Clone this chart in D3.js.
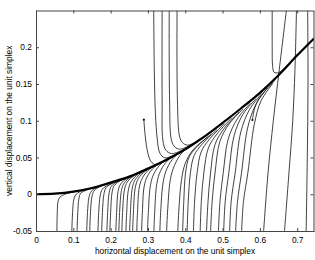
<!DOCTYPE html>
<html>
<head>
<meta charset="utf-8">
<script src="https://cdn.jsdelivr.net/npm/d3@7"></script>
<style>
  body { margin: 0; background: #fff; }
  text { font-family: "Liberation Sans", Arial, sans-serif; font-size: 8.4px; fill: #000; }
</style>
</head>
<body>
<div id="chart"></div>
<script>
// tick values and labels
const xTickVals = [0, 0.1, 0.2, 0.3, 0.4, 0.5, 0.6, 0.7];
const xTickText = ["0", "0.1", "0.2", "0.3", "0.4", "0.5", "0.6", "0.7"];
const yTickVals = [-0.05, 0, 0.05, 0.1, 0.15, 0.2];
const yTickText = ["-0.05", "0", "0.05", "0.1", "0.15", "0.2"];

// the thick curve (slow manifold)
const curveX = [0, 0.05, 0.1, 0.15, 0.2, 0.25, 0.3, 0.35, 0.4, 0.45, 0.5, 0.55, 0.6, 0.65, 0.7, 0.745];
const curveY = [0, 0.0008, 0.0035, 0.0085, 0.016, 0.024, 0.035, 0.047, 0.061, 0.078, 0.097, 0.117, 0.138, 0.162, 0.189, 0.212];

// trajectories coming up from the bottom edge
const bottomRuns = [
  [[0.056,-0.05],[0.057,-0.025],[0.059,-0.01],[0.064,-0.004],[0.08,0.0005],[0.11,0.004],[0.15,0.0085]],
  [[0.096,-0.05],[0.098,-0.025],[0.101,-0.008],[0.106,-0.001],[0.12,0.004],[0.15,0.008]],
  [[0.11,-0.05],[0.112,-0.025],[0.115,-0.006],[0.12,0.0015],[0.135,0.0055],[0.165,0.0102]],
  [[0.136,-0.05],[0.138,-0.025],[0.142,-0.004],[0.148,0.004],[0.165,0.0095],[0.2,0.0155]],
  [[0.144,-0.05],[0.146,-0.025],[0.15,-0.003],[0.156,0.005],[0.175,0.011],[0.21,0.0165]],
  [[0.166,-0.05],[0.168,-0.025],[0.172,-0.002],[0.178,0.007],[0.195,0.013],[0.23,0.02]],
  [[0.176,-0.05],[0.178,-0.025],[0.182,0],[0.188,0.009],[0.205,0.0148],[0.24,0.0215]],
  [[0.19,-0.05],[0.192,-0.025],[0.196,0.002],[0.202,0.011],[0.22,0.0175],[0.255,0.0245]],
  [[0.198,-0.05],[0.2,-0.025],[0.204,0.003],[0.21,0.012],[0.228,0.019],[0.26,0.0255]],
  [[0.214,-0.05],[0.216,-0.025],[0.22,0.004],[0.227,0.014],[0.245,0.022],[0.28,0.0298]],
  [[0.222,-0.05],[0.224,-0.025],[0.229,0.005],[0.236,0.015],[0.255,0.0238],[0.29,0.032]],
  [[0.23,-0.05],[0.232,-0.025],[0.237,0.006],[0.245,0.017],[0.265,0.0258],[0.3,0.0342]],
  [[0.241,-0.05],[0.243,-0.025],[0.248,0.007],[0.256,0.018],[0.275,0.0278],[0.31,0.0365]],
  [[0.251,-0.05],[0.253,-0.025],[0.258,0.008],[0.266,0.02],[0.285,0.0298],[0.32,0.039]],
  [[0.259,-0.05],[0.261,-0.025],[0.266,0.009],[0.274,0.021],[0.294,0.0318],[0.33,0.0413]],
  [[0.27,-0.05],[0.272,-0.025],[0.277,0.01],[0.286,0.023],[0.305,0.0343],[0.34,0.0439]],
  [[0.283,-0.05],[0.285,-0.025],[0.29,0.011],[0.299,0.025],[0.318,0.0373],[0.355,0.0478]],
  [[0.299,-0.05],[0.301,-0.025],[0.307,0.013],[0.316,0.028],[0.336,0.0418],[0.375,0.0534]],
  [[0.316,-0.05],[0.318,-0.025],[0.324,0.015],[0.334,0.032],[0.354,0.0465],[0.39,0.0578]],
  [[0.332,-0.05],[0.334,-0.025],[0.341,0.017],[0.351,0.035],[0.372,0.0514],[0.41,0.0639]],
  [[0.35,-0.05],[0.353,-0.02],[0.36,0.02],[0.371,0.039],[0.392,0.057],[0.43,0.0703]],
  [[0.38,-0.05],[0.383,-0.02],[0.39,0.02],[0.4,0.042],[0.42,0.06],[0.46,0.078]],
  [[0.393,-0.05],[0.396,-0.01],[0.401,0.03],[0.41,0.05],[0.43,0.064],[0.47,0.082]],
  [[0.405,-0.05],[0.408,-0.01],[0.414,0.03],[0.424,0.053],[0.445,0.068],[0.485,0.088]],
  [[0.422,-0.05],[0.425,-0.01],[0.432,0.03],[0.443,0.058],[0.465,0.075],[0.505,0.096]],
  [[0.44,-0.05],[0.443,-0.01],[0.45,0.03],[0.462,0.063],[0.485,0.082],[0.525,0.104]],
  [[0.457,-0.05],[0.461,-0.01],[0.468,0.03],[0.48,0.068],[0.505,0.09],[0.545,0.112]],
  [[0.468,-0.05],[0.472,-0.01],[0.48,0.03],[0.493,0.072],[0.518,0.096],[0.555,0.116]],
  [[0.489,-0.05],[0.493,-0.01],[0.502,0.03],[0.515,0.075],[0.54,0.103],[0.575,0.124]],
  [[0.503,-0.05],[0.507,-0.01],[0.517,0.03],[0.531,0.08],[0.555,0.109],[0.59,0.13]],
  [[0.519,-0.05],[0.523,-0.01],[0.534,0.03],[0.549,0.085],[0.572,0.115],[0.605,0.137]],
  [[0.535,-0.05],[0.54,-0.01],[0.551,0.03],[0.567,0.09],[0.588,0.121],[0.62,0.145]],
  [[0.551,-0.05],[0.556,-0.01],[0.568,0.03],[0.585,0.095],[0.603,0.127],[0.635,0.151]]
];

// trajectories coming down from the top edge
const topRuns = [
  [[0.3155,0.25],[0.317,0.17],[0.32,0.11],[0.325,0.075],[0.332,0.056],[0.345,0.0495],[0.37,0.0535],[0.4,0.0615]],
  [[0.338,0.25],[0.338,0.128],[0.34,0.0736],[0.348,0.06],[0.363,0.0554],[0.39,0.0595],[0.42,0.069]],
  [[0.357,0.25],[0.358,0.128],[0.363,0.0736],[0.372,0.0644],[0.385,0.0613],[0.41,0.066],[0.44,0.0755]],
  [[0.378,0.25],[0.379,0.128],[0.385,0.078],[0.393,0.07],[0.406,0.0668],[0.43,0.0715],[0.46,0.0815]],
  [[0.633,0.25],[0.633,0.2],[0.634,0.175],[0.638,0.166],[0.65,0.1655],[0.675,0.176],[0.71,0.193]]
];

// trajectories crossing the whole window on the right
const crossRuns = [
  [[0.61,-0.05],[0.622,0.03],[0.636,0.1],[0.652,0.17],[0.671,0.25]],
  [[0.666,-0.05],[0.678,0.03],[0.688,0.1],[0.694,0.17],[0.698,0.25]],
  [[0.724,-0.05],[0.727,0.05],[0.729,0.15],[0.728,0.25]]
];

// trajectories starting from a marked point inside the window
const dotRuns = [
  [[0.289,0.1015],[0.293,0.078],[0.3,0.0555],[0.309,0.044],[0.32,0.0405],[0.35,0.048]],
  [[0.58,0.101],[0.585,0.115],[0.595,0.128],[0.615,0.141],[0.64,0.155]]
];

const W = 315, H = 260;
const margin = { top: 10.5, right: 1, bottom: 29, left: 36 };

const x = d3.scaleLinear().domain([0, 0.745]).range([margin.left, W - margin.right]);
const y = d3.scaleLinear().domain([-0.05, 0.25]).range([H - margin.bottom, margin.top]);

const svg = d3.select("#chart").append("svg")
  .attr("width", W)
  .attr("height", H);

svg.append("defs").append("clipPath").attr("id", "plot")
  .append("rect")
  .attr("x", x.range()[0]).attr("y", y.range()[1])
  .attr("width", x.range()[1] - x.range()[0])
  .attr("height", y.range()[0] - y.range()[1]);

const line = d3.line()
  .x(d => x(d[0]))
  .y(d => y(d[1]))
  .curve(d3.curveCatmullRom.alpha(0.5));

const g = svg.append("g").attr("clip-path", "url(#plot)");

// thin trajectories
g.selectAll("path.run")
  .data(bottomRuns.concat(topRuns, crossRuns, dotRuns))
  .join("path")
  .attr("class", "run")
  .attr("d", line)
  .attr("fill", "none")
  .attr("stroke", "#111")
  .attr("stroke-width", 0.8);

// start markers
g.selectAll("circle.start")
  .data(dotRuns)
  .join("circle")
  .attr("class", "start")
  .attr("cx", d => x(d[0][0]))
  .attr("cy", d => y(d[0][1]))
  .attr("r", 1.1)
  .attr("fill", "#111");

// thick curve
const curvePts = curveX.map((v, i) => [v, curveY[i]]);
g.append("path")
  .attr("d", line(curvePts))
  .attr("fill", "none")
  .attr("stroke", "#000")
  .attr("stroke-width", 2.2);

// axes, matlab style box with inward ticks
const axisColor = "#444";
svg.append("g")
  .attr("transform", `translate(0,${y.range()[0]})`)
  .call(d3.axisBottom(x).tickValues(xTickVals).tickSize(-3).tickSizeOuter(0).tickPadding(6)
    .tickFormat((d, i) => xTickText[i]));
svg.append("g")
  .attr("transform", `translate(${x.range()[0]},0)`)
  .call(d3.axisLeft(y).tickValues(yTickVals).tickSize(-3).tickSizeOuter(0).tickPadding(4)
    .tickFormat((d, i) => yTickText[i]));
svg.append("g")
  .attr("transform", `translate(0,${y.range()[1]})`)
  .call(d3.axisTop(x).tickValues(xTickVals).tickSize(-3).tickSizeOuter(0).tickFormat(""));
svg.append("g")
  .attr("transform", `translate(${x.range()[1] - 0.5},0)`)
  .call(d3.axisRight(y).tickValues(yTickVals).tickSize(-3).tickSizeOuter(0).tickFormat(""));

svg.selectAll(".domain, .tick line").attr("stroke", axisColor);
svg.selectAll(".tick text").attr("font-size", null).attr("font-family", null).attr("fill", "#000");

// axis titles
svg.append("text")
  .attr("x", (x.range()[0] + x.range()[1]) / 2)
  .attr("y", 254)
  .attr("text-anchor", "middle")
  .text("horizontal displacement on the unit simplex");

svg.append("text")
  .attr("transform", `translate(12,${(y.range()[0] + y.range()[1]) / 2}) rotate(-90)`)
  .attr("text-anchor", "middle")
  .text("vertical displacement on the unit simplex");
</script>
</body>
</html>
